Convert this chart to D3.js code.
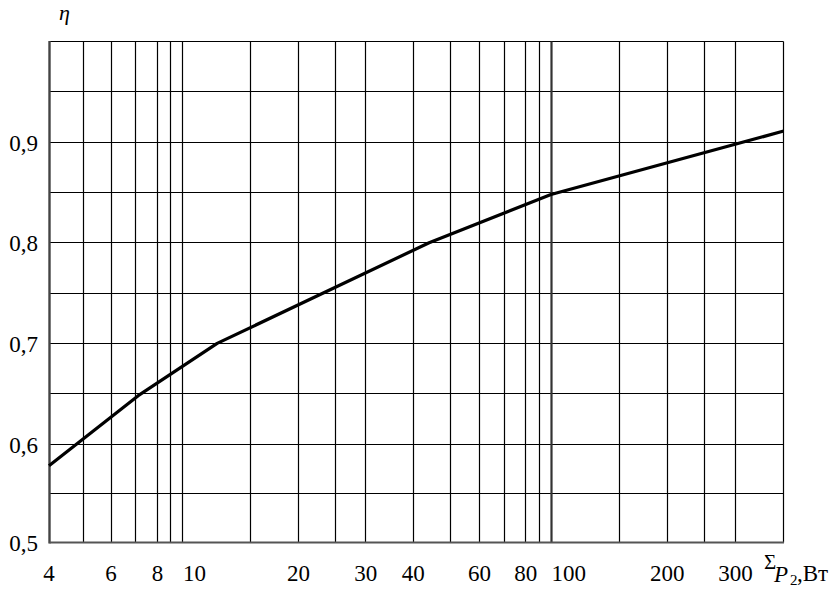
<!DOCTYPE html>
<html>
<head>
<meta charset="utf-8">
<script src="https://cdn.jsdelivr.net/npm/d3@7"></script>
<style>
  html, body { margin: 0; padding: 0; background: #fff; }
  svg { display: block; }
  svg text { font-family: 'Liberation Serif', 'DejaVu Serif', serif; }
</style>
</head>
<body>
<svg id="chart" width="839" height="596"></svg>
<script>
// ---- data ----
const powerW = [4, 7.1, 12.3, 44, 100, 400];          // ΣP2, Вт
const efficiency = [0.578, 0.648, 0.700, 0.800, 0.848, 0.911]; // η

const xGridValues = [5, 6, 7, 8, 9, 10, 15, 20, 25, 30, 40, 50, 60, 70, 80, 90, 100, 150, 200, 250, 300, 400];
const xTickValues = [4, 6, 8, 10, 20, 30, 40, 60, 80, 100, 200, 300];
const xTickLabels = ["4", "6", "8", "10", "20", "30", "40", "60", "80", "100", "200", "300"];
const yGridValues = [0.55, 0.6, 0.65, 0.7, 0.75, 0.8, 0.85, 0.9, 0.95, 1.0];
const yTickValues = [0.5, 0.6, 0.7, 0.8, 0.9];
const yTickLabels = ["0,5", "0,6", "0,7", "0,8", "0,9"];

// ---- layout (hand-drawn log grid calibration) ----
const xBreaks = [4, 6, 8, 10, 20, 50, 80, 100, 400];
const xBreakPx = [49, 111, 157.5, 182.5, 298.5, 450.3, 525.7, 551, 783.7];
const FONT = "'Liberation Serif', 'DejaVu Serif', serif";

const svg = d3.select("#chart");
const x = d3.scaleLog().domain(xBreaks).range(xBreakPx);
const y = d3.scaleLinear().domain([0.5, 0.6, 1.0]).range([542.5, 444, 41.5]);
const crisp = v => Math.floor(v) + 0.5;

const x0 = crisp(x(4)), x1 = crisp(x(400));
const y0 = crisp(y(0.5)), y1 = crisp(y(1.0));

// horizontal grid
svg.append("g").selectAll("line").data(yGridValues).join("line")
  .attr("x1", x0).attr("x2", x1)
  .attr("y1", d => crisp(y(d))).attr("y2", d => crisp(y(d)))
  .attr("stroke", "#000").attr("stroke-width", 1.2);

// vertical grid
svg.append("g").selectAll("line").data(xGridValues).join("line")
  .attr("x1", d => crisp(x(d))).attr("x2", d => crisp(x(d)))
  .attr("y1", y1).attr("y2", y0)
  .attr("stroke", d => d === 100 ? "#333" : "#000")
  .attr("stroke-width", d => d === 100 ? 2.2 : 1.2);

// axes (left and bottom, heavier grey)
svg.append("line").attr("x1", x0).attr("x2", x0).attr("y1", y1 - 0.5).attr("y2", y0 + 1)
  .attr("stroke", "#444").attr("stroke-width", 2.4);
svg.append("line").attr("x1", x0).attr("x2", x1 + 0.5).attr("y1", y0).attr("y2", y0)
  .attr("stroke", "#555").attr("stroke-width", 2.2);

// curve
const line = d3.line().x((d, i) => x(powerW[i])).y(d => y(d));
svg.append("path").datum(efficiency)
  .attr("d", line)
  .attr("fill", "none").attr("stroke", "#000")
  .attr("stroke-width", 3.2).attr("stroke-linejoin", "round");

// y tick labels
svg.append("g").selectAll("text").data(yTickValues).join("text")
  .attr("x", 38).attr("y", d => y(d) + 8.5)
  .attr("text-anchor", "end")
  .style("font-family", FONT).style("font-size", "23px")
  .text((d, i) => yTickLabels[i]);

// x tick labels
svg.append("g").selectAll("text").data(xTickValues).join("text")
  .attr("x", d => (d === 10 || d === 100) ? x(d) + 0.5 : x(d))
  .attr("y", 581)
  .attr("text-anchor", d => (d === 10 || d === 100) ? "start" : "middle")
  .style("font-family", FONT).style("font-size", "23px")
  .text((d, i) => xTickLabels[i]);

// axis titles
svg.append("text").attr("x", 59).attr("y", 20)
  .style("font-family", FONT).style("font-size", "22px").style("font-style", "italic")
  .text("η");

svg.append("text").attr("x", 764).attr("y", 569)
  .style("font-family", FONT).style("font-size", "21px").text("Σ");
svg.append("text").attr("x", 774).attr("y", 582)
  .style("font-family", FONT).style("font-size", "23px").style("font-style", "italic").text("P");
svg.append("text").attr("x", 790).attr("y", 585)
  .style("font-family", FONT).style("font-size", "15px").text("2");
svg.append("text").attr("x", 797).attr("y", 581)
  .style("font-family", FONT).style("font-size", "23px").text(",Вт");
</script>
</body>
</html>
